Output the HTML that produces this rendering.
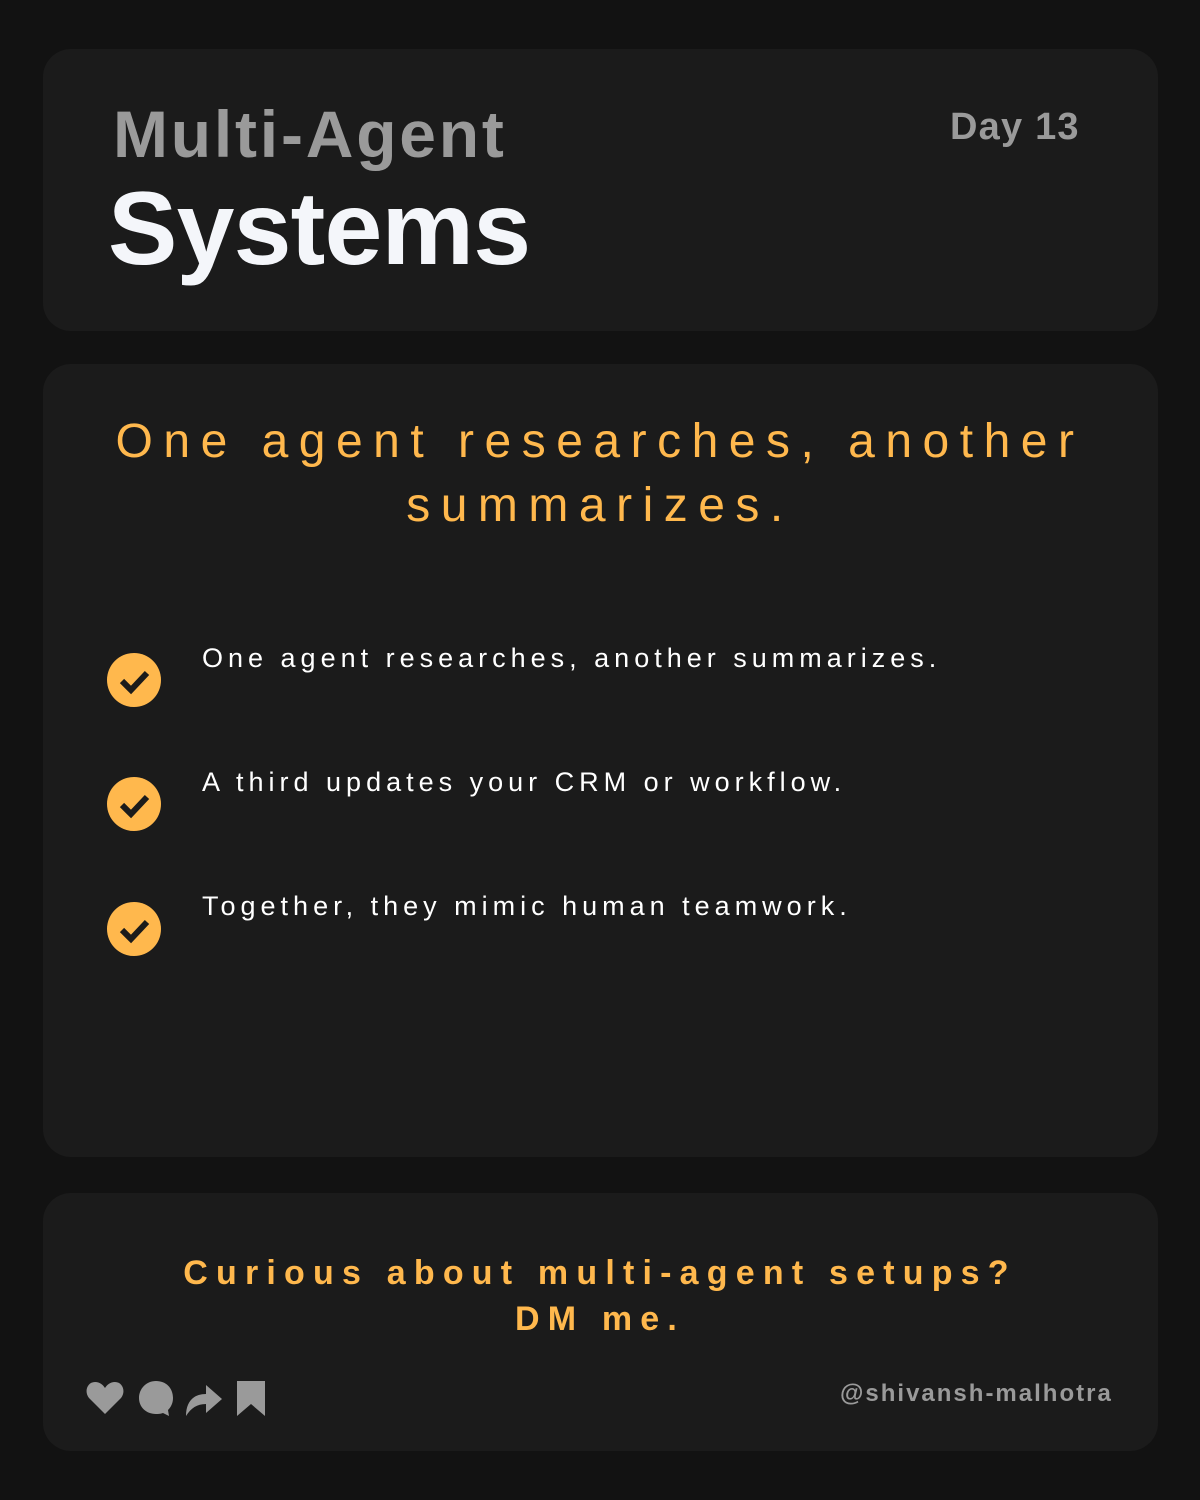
<!DOCTYPE html>
<html><head><style>
*{margin:0;padding:0;box-sizing:border-box}
body{width:1200px;height:1500px;background:#121212;font-family:"Liberation Sans",sans-serif;position:relative;overflow:hidden}
.card{position:absolute;left:43px;width:1115px;background:#1b1b1b;border-radius:28px}
.t1{position:absolute;left:113px;top:96px;font-size:66px;font-weight:bold;color:#9a9a9a;letter-spacing:2.8px}
.t2{position:absolute;left:108px;top:170px;font-size:104px;font-weight:bold;color:#f4f6fa;letter-spacing:-0.8px}
.day{position:absolute;left:950px;top:106px;font-size:38px;font-weight:bold;color:#9a9a9a;letter-spacing:1.2px}
.head{position:absolute;left:60px;width:1080px;top:410px;text-align:center;color:#ffb84d;font-size:48px;letter-spacing:10.5px;line-height:64px}
.item{position:absolute;left:202px;color:#fff;font-size:27px;letter-spacing:5px}
.chk{position:absolute;left:107px;width:54px;height:54px}
.cta{position:absolute;left:60px;width:1080px;top:1250px;text-align:center;color:#ffb84d;font-size:34px;font-weight:bold;letter-spacing:8.2px;line-height:46px}
.handle{position:absolute;left:840px;top:1380px;font-size:24px;font-weight:bold;color:#9a9a9a;letter-spacing:2px}
</style></head><body>
<div class="card" style="top:49px;height:282px"></div>
<div class="card" style="top:364px;height:793px"></div>
<div class="card" style="top:1193px;height:258px"></div>
<div class="t1">Multi-Agent</div>
<div class="t2">Systems</div>
<div class="day">Day 13</div>
<div class="head">One agent researches, another<br>summarizes.</div>
<svg class="chk" style="top:653px" viewBox="0 0 54 54"><circle cx="27" cy="27" r="27" fill="#ffb84d"/><path d="M15 28l9 9 16-17" stroke="#1b1b1b" stroke-width="6" fill="none"/></svg>
<svg class="chk" style="top:777px" viewBox="0 0 54 54"><circle cx="27" cy="27" r="27" fill="#ffb84d"/><path d="M15 28l9 9 16-17" stroke="#1b1b1b" stroke-width="6" fill="none"/></svg>
<svg class="chk" style="top:902px" viewBox="0 0 54 54"><circle cx="27" cy="27" r="27" fill="#ffb84d"/><path d="M15 28l9 9 16-17" stroke="#1b1b1b" stroke-width="6" fill="none"/></svg>
<div class="item" style="top:643px">One agent researches, another summarizes.</div>
<div class="item" style="top:767px">A third updates your CRM or workflow.</div>
<div class="item" style="top:891px">Together, they mimic human teamwork.</div>
<div class="cta">Curious about multi-agent setups?<br>DM me.</div>
<svg style="position:absolute;left:84px;top:1378px" width="185" height="40" viewBox="0 0 185 40" fill="#9a9a9a">
<path d="M21 36L5 20C0 14 3 4 11 4c5 0 8 3 10 6 2-3 5-6 10-6 8 0 11 10 6 16z"/>
<path d="M85 38l-6-3c-3 1-5 1-7 1-10 0-17-7-17-16S62 3 72 3s17 7 17 17c0 5-2 9-5 12z"/>
<path d="M102 38c0-14 7-22 20-22V7l16 14-16 14v-9c-9 0-15 4-20 12z"/>
<path d="M153 3h28v35l-14-12-14 12z"/>
</svg>
<div class="handle">@shivansh-malhotra</div>
</body></html>
